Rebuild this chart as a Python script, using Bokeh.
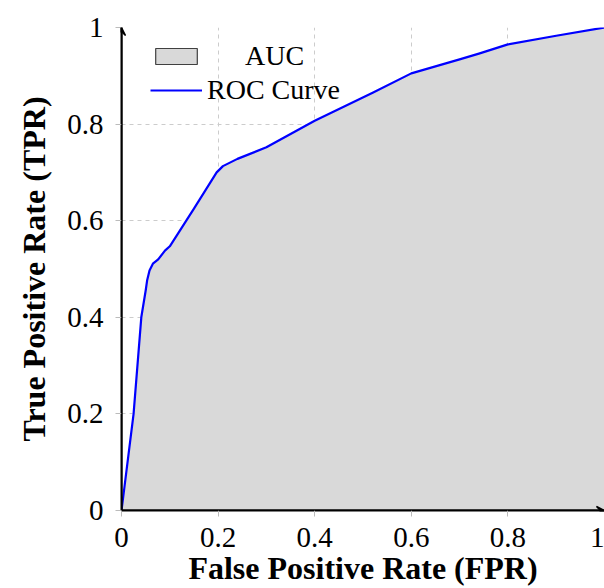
from bokeh.plotting import figure
from bokeh.models import Range1d, Arrow, VeeHead, Legend, LegendItem, FixedTicker
from bokeh.embed import file_html
from bokeh.resources import INLINE

fpr = [0.0, 0.025, 0.041, 0.05, 0.053, 0.058, 0.065, 0.076, 0.09, 0.1, 0.15, 0.197, 0.21, 0.24, 0.3, 0.4, 0.52, 0.6, 0.7, 0.74, 0.8, 0.9, 1.0]
tpr = [0.0, 0.2, 0.4, 0.455, 0.476, 0.497, 0.511, 0.52, 0.538, 0.547, 0.625, 0.70, 0.713, 0.728, 0.752, 0.807, 0.865, 0.905, 0.934, 0.946, 0.965, 0.983, 1.0]
ticks = [0, 0.2, 0.4, 0.6, 0.8, 1]
tick_labels = {0: "0", 0.2: "0.2", 0.4: "0.4", 0.6: "0.6", 0.8: "0.8", 1: "1"}

FONT = "Liberation Serif"
NAN = float("nan")

p = figure(width=604, height=588, output_backend="svg", toolbar_location=None,
           x_range=Range1d(0, 1), y_range=Range1d(0, 1),
           min_border_left=121, min_border_right=0, min_border_top=27, min_border_bottom=78)
p.outline_line_color = None
p.background_fill_color = "white"
p.border_fill_color = "white"

area = p.varea(x=fpr, y1=[0] * len(fpr), y2=tpr, fill_color="#d9d9d9")
roc = p.line(fpr, tpr, line_color="#0000ff", line_width=2.2, line_join="round")
box = p.rect(x=[NAN], y=[NAN], width=[NAN], height=[NAN],
             fill_color="#d9d9d9", line_color="#404040", line_width=1.2)

for ax, lab in ((p.xaxis[0], "False Positive Rate (FPR)"), (p.yaxis[0], "True Positive Rate (TPR)")):
    ax.ticker = FixedTicker(ticks=ticks)
    ax.major_label_overrides = tick_labels
    ax.axis_label = lab
    ax.axis_label_text_font = FONT
    ax.axis_label_text_font_style = "bold"
    ax.axis_label_text_font_size = "32px"
    ax.axis_label_text_color = "black"
    ax.major_label_text_font = FONT
    ax.major_label_text_font_size = "29px"
    ax.major_label_text_color = "black"
    ax.axis_line_color = "black"
    ax.axis_line_width = 2
    ax.major_tick_in = 0
    ax.major_tick_out = 6
    ax.major_tick_line_color = "#bbbbbb"
    ax.minor_tick_line_color = None

p.xaxis.major_label_standoff = 11
p.xaxis.axis_label_standoff = 0
p.yaxis.major_label_standoff = 12
p.yaxis.axis_label_standoff = 12
p.yaxis.major_label_orientation = "horizontal"

p.grid.grid_line_color = "#cccccc"
p.grid.grid_line_dash = "4 4"
p.grid.ticker = FixedTicker(ticks=ticks)

p.add_layout(Arrow(end=VeeHead(size=8, line_color="black", fill_color="black", line_width=1.5),
                   x_start=0, y_start=0, x_end=0, y_end=1, line_color="black", line_width=2))
p.add_layout(Arrow(end=VeeHead(size=8, line_color="black", fill_color="black", line_width=1.5),
                   x_start=0, y_start=0, x_end=1, y_end=0, line_color="black", line_width=2))

common = dict(border_line_color=None, background_fill_alpha=0,
              label_text_font=FONT, label_text_font_size="28px", label_text_color="black",
              glyph_width=52, glyph_height=20, label_height=20, spacing=0,
              padding=0, margin=0)
legend_auc = Legend(items=[LegendItem(label="AUC", renderers=[box])],
                    location=(29, 438), label_standoff=43, **common)
legend_roc = Legend(items=[LegendItem(label="ROC Curve", renderers=[roc])],
                    location=(29, 404), label_standoff=5, **common)
p.add_layout(legend_auc)
p.add_layout(legend_roc)

open("out.html", "w").write(file_html(p, INLINE))
